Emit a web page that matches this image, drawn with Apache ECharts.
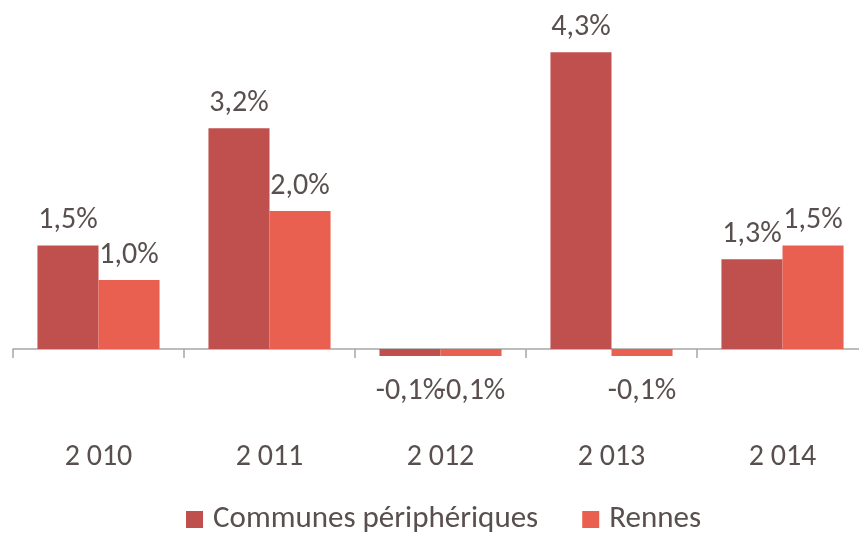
<!DOCTYPE html>
<html lang="fr">
<head>
    <meta charset="UTF-8">
    <title>Evolution</title>
    <script src="https://cdn.jsdelivr.net/npm/echarts@6/dist/echarts.min.js"></script>
    <style>
        html, body { margin: 0; padding: 0; background: #fff; }
    </style>
</head>
<body>
    <div style="height: 534px;width: 859px" id="chart"></div>
    <script type="text/javascript">
        var annees = ['2 010', '2 011', '2 012', '2 013', '2 014'];
        var communes = [1.5, 3.2, -0.1, 4.3, 1.3];
        var rennes = [1.0, 2.0, -0.1, -0.1, 1.5];

        var police = 'Carlito, Lato, sans-serif';
        var gris = '#594f4f';
        var trait = '#a6a6a6';

        function etiquette(p) {
            return p.value.toFixed(1).replace('.', ',') + '%';
        }

        var serieLabel = {
            show: true,
            position: 'top',
            distance: 10,
            color: gris,
            fontFamily: police,
            fontSize: 30,
            formatter: etiquette
        };

        function donnees(vals) {
            return vals.map(function (v) {
                return {
                    value: v,
                    label: v < 0 ? { position: 'bottom', distance: 21 } : {}
                };
            });
        }

        var myChart = echarts.init(document.getElementById('chart'));
        var option = {
            animation: false,
            textStyle: { fontFamily: police },
            grid: { left: 13, width: 855, top: 4, height: 414, outerBoundsMode: 'none', containLabel: false },
            legend: {
                top: 499,
                left: 181,
                itemWidth: 17,
                itemHeight: 17,
                itemGap: 44,
                icon: 'rect',
                textStyle: { color: gris, fontSize: 31, fontFamily: police, padding: [0, 0, 0, 5] },
                data: ['Communes périphériques', 'Rennes']
            },
            xAxis: [
                {
                    type: 'category',
                    data: annees,
                    axisLine: { onZero: true, lineStyle: { color: trait, width: 1.5 } },
                    axisTick: { show: true, interval: 0, length: 9, lineStyle: { color: trait, width: 1.5 } },
                    axisLabel: { show: false }
                },
                {
                    type: 'category',
                    data: annees,
                    position: 'bottom',
                    axisLine: { show: false },
                    axisTick: { show: false },
                    axisLabel: { margin: 24, color: gris, fontSize: 30, fontFamily: police }
                }
            ],
            yAxis: {
                type: 'value',
                min: -1,
                max: 5,
                show: false,
                splitLine: { show: false }
            },
            series: [
                {
                    name: 'Communes périphériques',
                    type: 'bar',
                    barGap: '0%',
                    barCategoryGap: '28.6%',
                    itemStyle: { color: '#c0504d' },
                    label: serieLabel,
                    data: donnees(communes)
                },
                {
                    name: 'Rennes',
                    type: 'bar',
                    itemStyle: { color: '#e96050' },
                    label: serieLabel,
                    data: donnees(rennes)
                }
            ]
        };
        myChart.setOption(option);
    </script>
</body>
</html>
